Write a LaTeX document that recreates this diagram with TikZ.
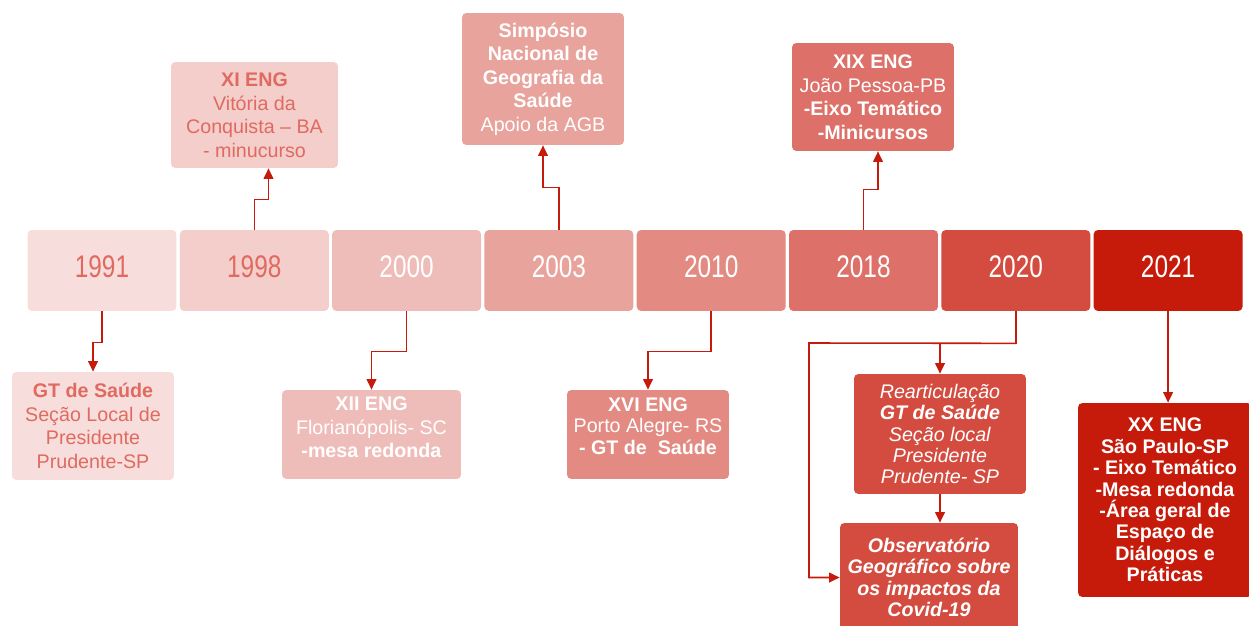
\documentclass[tikz,border=0pt]{standalone}
\usepackage{fontspec}
\setmainfont{Liberation Sans}
\newfontfamily\yearfont{Liberation Sans}[FakeStretch=0.78]
\usetikzlibrary{arrows.meta,calc}
\definecolor{yr1}{HTML}{F7DEDC}
\definecolor{yr2}{HTML}{F3CECB}
\definecolor{yr3}{HTML}{EEBDB9}
\definecolor{yr4}{HTML}{E8A39D}
\definecolor{yr5}{HTML}{E38A82}
\definecolor{yr6}{HTML}{DD7068}
\definecolor{yr7}{HTML}{D44C40}
\definecolor{yr8}{HTML}{C61B0B}
\definecolor{salmon}{HTML}{E06A60}
\definecolor{linkred}{HTML}{C61B0B}

\begin{document}
\begin{tikzpicture}[x=0.02cm, y=-0.02cm,
  yearbox/.style={rounded corners=2.5pt, minimum width=2.98cm, minimum height=1.62cm,
    inner sep=0pt, text depth=4.5pt, font=\yearfont\fontsize{17.8}{20}\selectfont, text=white},
  event/.style={rounded corners=2.5pt, align=center, inner sep=2pt, text=white,
    font=\fontsize{11.2}{13.4}\selectfont},
  tight/.style={font=\fontsize{11.2}{12.2}\selectfont},
  link/.style={-{Triangle[length=6pt,width=5.5pt]}, line width=0.9pt, linkred}
]
\useasboundingbox (0,0) rectangle (1249,626);
\fill[white] (0,0) rectangle (1249,626);

% timeline
\foreach \yr/\col/\txt [count=\i from 0] in {1991/yr1/salmon, 1998/yr2/salmon,
    2000/yr3/white, 2003/yr4/white, 2010/yr5/white, 2018/yr6/white,
    2020/yr7/white, 2021/yr8/white}
  \node[yearbox, fill=\col, text=\txt] (y\yr) at (102+152.3*\i, 270.5) {\yr};

% events above
\node[event, fill=yr2, text=salmon, minimum width=3.34cm, minimum height=2.12cm]
  (xi) at (254.5,115) {\textbf{XI ENG}\\Vitória da\\Conquista – BA\\- minucurso};
\node[event, fill=yr4, minimum width=3.24cm, minimum height=2.64cm]
  (simp) at (543,79) {\textbf{Simpósio}\\\textbf{Nacional de}\\\textbf{Geografia da}\\\textbf{Saúde}\\Apoio da AGB};
\node[event, fill=yr6, minimum width=3.24cm, minimum height=2.16cm]
  (xix) at (873,97) {\textbf{XIX ENG}\\João Pessoa-PB\\\textbf{-Eixo Temático}\\\textbf{-Minicursos}};

% events below
\node[event, fill=yr1, text=salmon, minimum width=3.24cm, minimum height=2.16cm]
  (gt) at (93,426) {\textbf{GT de Saúde}\\Seção Local de\\Presidente\\Prudente-SP};
\node[event, fill=yr3, minimum width=3.58cm, minimum height=1.78cm, text depth=8pt]
  (xii) at (371.5,434.5) {\textbf{XII ENG}\\Florianópolis- SC\\\textbf{-mesa redonda}};
\node[event, tight, fill=yr5, minimum width=3.24cm, minimum height=1.78cm, text depth=10pt]
  (xvi) at (648,434.5) {\textbf{XVI ENG}\\Porto Alegre- RS\\\textbf{- GT de\ \ Saúde}};
\node[event, tight, fill=yr7, minimum width=3.44cm, minimum height=2.4cm]
  (rear) at (940,434) {\textit{Rearticulação}\\\textbf{\textit{GT de Saúde}}\\\textit{Seção local}\\\textit{Presidente}\\\textit{Prudente- SP}};
\node[event, tight, fill=yr7, minimum width=3.56cm, minimum height=2.18cm,
  font=\fontsize{11.2}{12.2}\selectfont\bfseries\itshape]
  (obs) at (929,577.5) {Observatório\\Geográfico sobre\\os impactos da\\Covid-19};
\node[event, fill=yr8, minimum width=3.48cm, minimum height=3.88cm,
  font=\fontsize{11.2}{12.2}\selectfont\bfseries]
  (xx) at (1165,500) {XX ENG\\São Paulo-SP\\- Eixo Temático\\-Mesa redonda\\-Área geral de\\Espaço de\\Diálogos e\\Práticas};

% connectors
\draw[link] (y1991.south) -- ++(0,31) -| (gt.north);
\draw[link] (y1998.north) -- ++(0,-30) -| ($(xi.south)+(14,0)$);
\draw[link] (y2000.south) -- ++(0,40) -| (xii.north);
\draw[link] (y2003.north) -- ++(0,-42) -| (simp.south);
\draw[link] (y2010.south) -- ++(0,40) -| (xvi.north);
\draw[link] (y2018.north) -- ++(0,-40) -| ($(xix.south)+(5,0)$);
\coordinate (split) at ($(y2020.south)+(0,32)$);
\coordinate (corner) at (809,343);
\draw[link] (y2020.south) -- (split) -| (rear.north);
\draw[link] (split) -- (corner) |- (obs.west);
\draw[link] (rear.south) -- (rear.south |- obs.north);
\draw[link] (y2021.south) -- (y2021.south |- xx.north);
\end{tikzpicture}
\end{document}
